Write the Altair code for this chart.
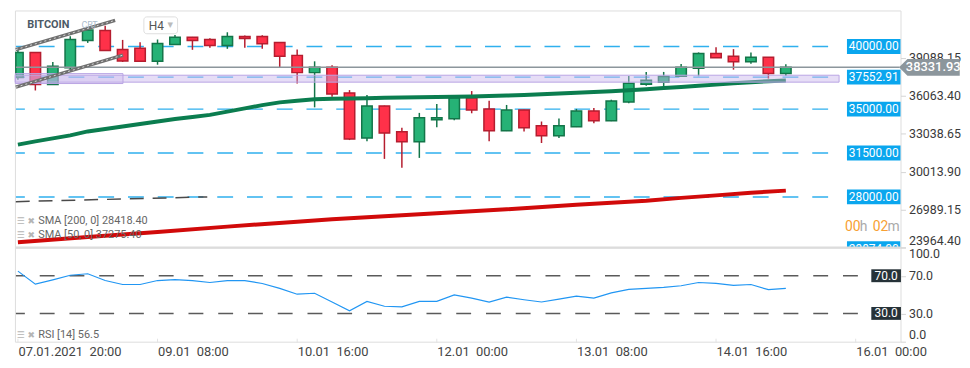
import altair as alt
import pandas as pd

# ---------------- data ----------------
candle_idx = list(range(45))
open_ = [37516, 39525, 36962, 38307, 40474, 41265, 39763, 39865, 38813, 40158,
         40735, 40554, 40079, 40791, 40791, 40316, 39288, 37912, 38339, 36282,
         32691, 35254, 33197, 32406, 34146, 34226, 35910, 35017, 33276, 34937,
         33672, 32881, 33593, 34858, 34067, 35570, 36994, 37152, 37627, 38260,
         39446, 39209, 38782, 39130, 37833]
high = [39786, 39549, 38758, 40815, 41447, 41661, 40522, 40340, 40554, 40917,
        40760, 40656, 41131, 40870, 40894, 40340, 39763, 38813, 38497, 36519,
        36124, 35280, 33514, 34700, 35412, 36124, 36440, 35673, 35333, 34960,
        34012, 34249, 35017, 35096, 35752, 37651, 37967, 37967, 38600, 39525,
        39944, 39786, 39525, 39150, 38576]
low = [37334, 36488, 36939, 38125, 40285, 39650, 38758, 38790, 38544, 40130,
       39731, 39889, 39810, 39889, 39810, 38362, 37042, 35143, 35989, 32533,
       32430, 31030, 30318, 31109, 33561, 34115, 34669, 32430, 33250, 33221,
       32296, 32691, 33570, 33878, 34040, 35460, 36860, 36780, 37600, 37627,
       39070, 38149, 38624, 37437, 37651]
close = [39525, 36962, 38418, 40554, 41313, 39683, 38837, 38813, 40237, 40735,
         40474, 40079, 40791, 40633, 40206, 39209, 37912, 38339, 36203, 32612,
         35254, 33087, 32406, 34305, 34305, 35910, 34937, 33276, 34937, 33514,
         32881, 33672, 34858, 34067, 35649, 37073, 37310, 37595, 38339, 39446,
         39098, 38782, 39130, 37833, 38331.93]
sma50 = [32169, 32430, 32667, 32905, 33221, 33419, 33616, 33814, 34012, 34210,
         34368, 34542, 34803, 35064, 35317, 35539, 35673, 35792, 35831, 35855,
         35871, 35910, 35934, 35950, 35966, 35989, 36013, 36045, 36084, 36124,
         36179, 36243, 36306, 36369, 36432, 36512, 36591, 36678, 36765, 36860,
         36955, 37057, 37152, 37231, 37275.4]
sma200_idx = [0, 4, 8, 12, 16, 18, 20, 24, 28, 32, 34, 36, 38, 40, 42, 44]
sma200 = [24386, 24797, 25192, 25627, 26023, 26221, 26379, 26695, 27012, 27368,
          27526, 27684, 27921, 28119, 28333, 28500]
rsi = [74.9, 61.1, 65.6, 70.5, 72.1, 64.9, 60.7, 60.7, 64.9, 65.9,
       64.9, 62.8, 64.9, 64.9, 61.8, 56.6, 50.4, 51.4, 42.1, 32.7,
       42.8, 37.6, 36.9, 42.8, 42.8, 49.7, 46.2, 42.1, 47.3, 44.5,
       42.1, 45.2, 48.3, 46.2, 51.8, 55.5, 56.6, 57.6, 59.4, 62.8,
       61.8, 59.7, 60.7, 55.2, 56.5]

levels = [40000.00, 37552.91, 35000.00, 31500.00, 28000.00]
level_labels = ["40000.00", "37552.91", "35000.00", "31500.00", "28000.00"]
hidden_level = [23874.00]
hidden_label = ["23874.00"]
last_price = [38331.93]
last_label = ["38331.93"]
price_ticks = [39088.15, 36063.40, 33038.65, 30013.90, 26989.15, 23964.40]
rsi_ticks = [0, 30, 70, 100]
rsi_levels = [70, 30]
rsi_level_labels = ["70.0", "30.0"]
x_tick_idx = [0, 8, 16, 24, 32, 40, 48]
x_tick_labels = ["07.01.2021\u00a0\u00a020:00", "09.01\u00a0\u00a008:00", "10.01\u00a0\u00a016:00",
                 "12.01\u00a0\u00a000:00", "13.01\u00a0\u00a008:00", "14.01\u00a0\u00a016:00",
                 "16.01\u00a0\u00a000:00"]
channel_line = ["upper", "upper", "lower", "lower"]
channel_idx = [-0.12, 5.57, -0.12, 6.02]
channel_price = [39750, 42080, 36750, 39312]
trend_idx = [-0.12, 10.85]
trend_price = [27620, 28000]
zone_idx = [-0.15, 47.05]
zone_price = [37152, 37706]
zone2_idx = [-0.15, 6.02]
zone2_price = [37041, 37833]
sma200_text = ["SMA  [200,  0]  28418.40"]
sma50_text = ["SMA  [50,  0]  37275.40"]
rsi_text = ["RSI  [14]  56.5"]

# ---------------- frames ----------------
df = pd.DataFrame({"i": candle_idx, "o": open_, "h": high, "l": low, "c": close,
                   "sma50": sma50, "rsi": rsi})
df["dir"] = ["up" if c >= o else "down" for o, c in zip(open_, close)]
df200 = pd.DataFrame({"i": sma200_idx, "v": sma200})
dlev = pd.DataFrame({"p": levels, "t": level_labels})
dhid = pd.DataFrame({"p": hidden_level, "t": hidden_label})
dlast = pd.DataFrame({"p": last_price, "t": last_label})
dch = pd.DataFrame({"g": channel_line, "i": channel_idx, "p": channel_price})
dtr = pd.DataFrame({"i": trend_idx, "p": trend_price})
dz = pd.DataFrame({"i1": [zone_idx[0]], "i2": [zone_idx[1]], "p1": [zone_price[0]], "p2": [zone_price[1]]})
dz2 = pd.DataFrame({"i1": [zone2_idx[0]], "i2": [zone2_idx[1]], "p1": [zone2_price[0]], "p2": [zone2_price[1]]})
drl = pd.DataFrame({"r": rsi_levels, "t": rsi_level_labels})
dxt = pd.DataFrame({"i": x_tick_idx})
one = pd.DataFrame({"k": [0]})

W = 893
H_MAIN = 239
H_RSI = 95
FONT = "Roboto"
X0 = -0.17

xs = alt.Scale(domain=[X0, 50.57], nice=False, zero=False, padding=0)
ys = alt.Scale(domain=[23964.4, 42871], nice=False, zero=False, padding=0)
rs = alt.Scale(domain=[0, 100], nice=False, zero=False, padding=0)

yaxis = alt.Axis(orient="right", values=price_ticks, format=".2f", labelFlush=True,
                 tickSize=5, tickColor="#d5d5d5", domain=False, grid=False,
                 labelColor="#3a3a3a", labelFontSize=12.5, labelPadding=3, title=None,
                 labelFont=FONT)
raxis = alt.Axis(orient="right", values=rsi_ticks, format=".1f", labelFlush=True,
                 tickSize=5, tickColor="#d5d5d5", domain=False, grid=False,
                 labelColor="#3a3a3a", labelFontSize=12.5, labelPadding=3, title=None,
                 labelFont=FONT)
expr = "''"
for v, l in reversed(list(zip(x_tick_idx, x_tick_labels))):
    expr = f"datum.value == {v} ? '{l}' : ({expr})"
xaxis = alt.Axis(values=x_tick_idx, labelExpr=expr, labelAlign="left", ticks=False,
                 domain=False, grid=False, labelFontSize=13,
                 labelColor="#444444", labelPadding=4, title=None, labelOverlap=False,
                 labelFont=FONT, labelBound=False)


def X(f):
    return alt.X(f, type="quantitative", scale=xs, axis=None)


def Y(f):
    return alt.Y(f, type="quantitative", scale=ys, axis=yaxis)


BLUE = "#2fb0ee"
GREEN_F, GREEN_S = "#26b276", "#137549"
RED_F, RED_S = "#ff3149", "#b51d2f"
dir_fill = alt.Color("dir:N", scale=alt.Scale(domain=["up", "down"], range=[GREEN_F, RED_F]), legend=None)
dir_stroke = alt.Stroke("dir:N", scale=alt.Scale(domain=["up", "down"], range=[GREEN_S, RED_S]), legend=None)

# box shapes drawn as symbols (unit = sqrt(size)/2 px)
BOX_LEVEL = "M -3.6 -1 L 3.6 -1 L 3.6 1 L -3.6 1 Z"   # 54 x 15 px at size 225
TAG_SHAPE = "M 0 0 L 1 -1 L 7.2 -1 L 7.2 1 L 1 1 Z"    # arrow tag, 17 px tall at size 289
BOX_RSI = "M -2.3 -1 L 2.3 -1 L 2.3 1 L -2.3 1 Z"     # 30 x 13 px at size 169

layers = []
layers.append(alt.Chart(dlev).mark_rule(color=BLUE, strokeWidth=1.5, strokeDash=[16, 14], strokeDashOffset=7)
              .encode(y=Y("p"), x=alt.value(1), x2=alt.value(833)))
layers.append(alt.Chart(df200).mark_line(color="#d10a0a", strokeWidth=4).encode(x=X("i"), y=Y("v")))
layers.append(alt.Chart(dtr).mark_line(color="#4a4a4a", strokeWidth=1.5, strokeDash=[14, 9])
              .encode(x=X("i"), y=Y("p")))
layers.append(alt.Chart(df).mark_rule(strokeWidth=1.5)
              .encode(x=X("i"), y=Y("l"), y2="h", color=alt.Color("dir:N", scale=alt.Scale(domain=["up", "down"], range=[GREEN_S, RED_S]), legend=None)))
layers.append(alt.Chart(df).transform_calculate(
    xa=f"max(datum.i - 0.3, {X0} + 0.05)", xb="datum.i + 0.3")
    .mark_rect(strokeWidth=1.5)
    .encode(x=X("xa"), x2="xb", y=Y("o"), y2="c", fill=dir_fill, stroke=dir_stroke))
layers.append(alt.Chart(df).mark_line(color="#0b7d4f", strokeWidth=4).encode(x=X("i"), y=Y("sma50")))
layers.append(alt.Chart(dz).mark_rect(fill="#c7b4ec", fillOpacity=0.45, stroke="#b9a4e4", strokeWidth=1)
              .encode(x=X("i1"), x2="i2", y=Y("p1"), y2="p2"))
layers.append(alt.Chart(dz2).mark_rect(fill="#c7b4ec", fillOpacity=0.3, stroke="#b9a4e4", strokeWidth=1)
              .encode(x=X("i1"), x2="i2", y=Y("p1"), y2="p2"))
layers.append(alt.Chart(dlast).mark_rule(color="#8c969c", strokeWidth=1.5)
              .encode(y=Y("p"), x=alt.value(1), x2=alt.value(892)))
layers.append(alt.Chart(dch).mark_line(color="#707070", strokeWidth=3.5)
              .encode(x=X("i"), y=Y("p"), detail="g:N"))
layers.append(alt.Chart(dch).mark_line(color="#d8d8d8", strokeWidth=1, strokeDash=[2, 3])
              .encode(x=X("i"), y=Y("p"), detail="g:N"))
# level label boxes
layers.append(alt.Chart(dlev).mark_point(shape=BOX_LEVEL, filled=True, size=225, color="#0aa6ee", opacity=1)
              .encode(y=Y("p"), x=alt.value(866)))
layers.append(alt.Chart(dlev).mark_text(color="white", fontSize=12, font=FONT, align="center", baseline="middle")
              .encode(y=Y("p"), x=alt.value(866), text="t:N"))
layers.append(alt.Chart(dhid).mark_point(shape=BOX_LEVEL, filled=True, size=225, color="#0aa6ee", opacity=1, clip=True)
              .encode(y=Y("p"), x=alt.value(866)))
layers.append(alt.Chart(dhid).mark_text(color="white", fontSize=12, font=FONT, align="center", baseline="middle", clip=True)
              .encode(y=Y("p"), x=alt.value(866), text="t:N"))
# last price tag
layers.append(alt.Chart(dlast).mark_point(shape=TAG_SHAPE, filled=True, size=289, color="#8c969c", opacity=1)
              .encode(y=Y("p"), x=alt.value(891.5)))
layers.append(alt.Chart(dlast).mark_text(color="white", fontSize=13, font=FONT, fontWeight=500,
                                        align="center", baseline="middle")
              .encode(y=Y("p"), x=alt.value(926), text="t:N"))
# header
layers.append(alt.Chart(one).mark_text(text="BITCOIN", fontSize=11, fontWeight="bold", font=FONT,
                                      color="#4d5a66", align="left", baseline="middle")
              .encode(x=alt.value(12.5), y=alt.value(14.5)))
layers.append(alt.Chart(one).mark_text(text="CRT", fontSize=9, font=FONT, color="#a9bccd",
                                      align="left", baseline="middle")
              .encode(x=alt.value(67), y=alt.value(15)))
layers.append(alt.Chart(one).mark_rect(fill="white", stroke="#dedede", strokeWidth=1, cornerRadius=3)
              .encode(x=alt.value(130), x2=alt.value(164), y=alt.value(6.5), y2=alt.value(23.5)))
layers.append(alt.Chart(one).mark_text(text="H4", fontSize=12, font=FONT, color="#555555",
                                      align="left", baseline="middle")
              .encode(x=alt.value(135), y=alt.value(15.5)))
layers.append(alt.Chart(one).mark_text(text="\u25be", fontSize=11, font="DejaVu Sans", color="#bbbbbb",
                                      align="center", baseline="middle")
              .encode(x=alt.value(156.5), y=alt.value(15)))
for ytxt, txt in [(212, sma200_text[0]), (226.5, sma50_text[0])]:
    layers.append(alt.Chart(one).mark_text(text="\u2630", fontSize=9, font="DejaVu Sans", color="#b5b5b5",
                                          align="center", baseline="middle")
                  .encode(x=alt.value(6), y=alt.value(ytxt)))
    layers.append(alt.Chart(one).mark_text(text="\u2716", fontSize=9, font="DejaVu Sans", color="#b5b5b5",
                                          align="center", baseline="middle")
                  .encode(x=alt.value(16.5), y=alt.value(ytxt)))
    layers.append(alt.Chart(one).mark_text(text=txt, fontSize=11, font=FONT, color="#666666",
                                          align="left", baseline="middle")
                  .encode(x=alt.value(23.5), y=alt.value(ytxt)))
for xx, t, col in [(837, "00", "#f7a032"), (852, "h", "#aaaaaa"), (865, "02", "#f7a032"), (880, "m", "#aaaaaa")]:
    layers.append(alt.Chart(one).mark_text(text=t, fontSize=14, font=FONT, color=col,
                                          align="left", baseline="middle")
                  .encode(x=alt.value(xx), y=alt.value(218)))

main = alt.layer(*layers).properties(width=W, height=H_MAIN)


def XR(f):
    return alt.X(f, type="quantitative", scale=xs, axis=xaxis)


def YR(f):
    return alt.Y(f, type="quantitative", scale=rs, axis=raxis)


rl = []
rl.append(alt.Chart(one).mark_rule(color="#dcdcdc", strokeWidth=2)
          .encode(x=alt.value(1), x2=alt.value(893), y=alt.value(0)))
rl.append(alt.Chart(dxt).mark_rule(color="#e3e3e3", strokeWidth=1)
          .encode(x=XR("i"), y=alt.value(92), y2=alt.value(96)))
rl.append(alt.Chart(drl).mark_rule(color="#5a5a5a", strokeWidth=1.5, strokeDash=[15, 15], strokeDashOffset=6)
          .encode(y=YR("r"), x=alt.value(1), x2=alt.value(850)))
rl.append(alt.Chart(drl).mark_point(shape=BOX_RSI, filled=True, size=169, color="#263238", opacity=1)
          .encode(y=YR("r"), x=alt.value(878.5)))
rl.append(alt.Chart(drl).mark_text(color="white", fontSize=12, font=FONT, align="center", baseline="middle")
          .encode(y=YR("r"), x=alt.value(878.5), text="t:N"))
rl.append(alt.Chart(df).mark_line(color="#2196f3", strokeWidth=1.2).encode(x=XR("i"), y=YR("rsi")))
rl.append(alt.Chart(one).mark_text(text="\u2630", fontSize=9, font="DejaVu Sans", color="#b5b5b5",
                                   align="center", baseline="middle")
          .encode(x=alt.value(6), y=alt.value(88)))
rl.append(alt.Chart(one).mark_text(text="\u2716", fontSize=9, font="DejaVu Sans", color="#b5b5b5",
                                   align="center", baseline="middle")
          .encode(x=alt.value(16.5), y=alt.value(88)))
rl.append(alt.Chart(one).mark_text(text=rsi_text[0], fontSize=11, font=FONT, color="#666666",
                                   align="left", baseline="middle")
          .encode(x=alt.value(23.5), y=alt.value(88)))
rsi_chart = alt.layer(*rl).properties(width=W, height=H_RSI)

chart = alt.vconcat(main, rsi_chart, spacing=0, bounds="flush").properties(
    padding={"left": 0, "top": 0, "right": 0, "bottom": 0}
).configure_view(stroke=None).configure(font=FONT, background="white")

chart.save("out.html", embed_options={"renderer": "svg", "actions": False})
